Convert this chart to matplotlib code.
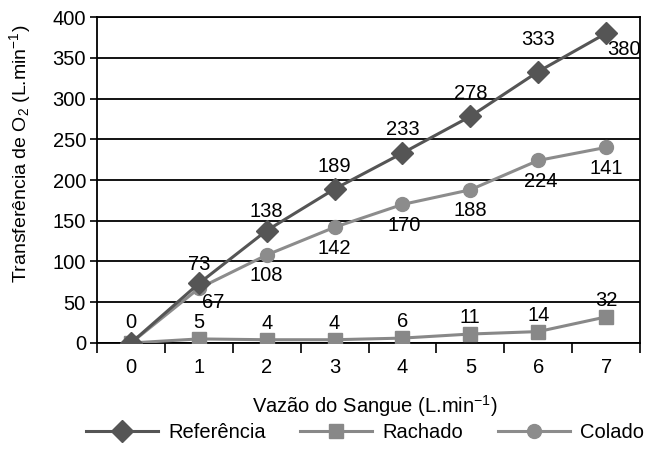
import matplotlib
matplotlib.use("Agg")
import matplotlib.pyplot as plt

plt.rcParams['font.family'] = ['Liberation Sans', 'DejaVu Sans']
plt.rcParams['mathtext.fontset'] = 'custom'
plt.rcParams['mathtext.rm'] = 'Liberation Sans'
plt.rcParams['mathtext.it'] = 'Liberation Sans:italic'
plt.rcParams['mathtext.default'] = 'regular'

# Blood flow categories and O2 transfer series
vazao = [0, 1, 2, 3, 4, 5, 6, 7]
referencia = [0, 73, 138, 189, 233, 278, 333, 380]
rachado = [0, 5, 4, 4, 6, 11, 14, 32]
colado = [0, 67, 108, 142, 170, 188, 224, 240]

# Printed data labels
ref_labels = ["0", "73", "138", "189", "233", "278", "333", "380"]
rach_labels = [None, "5", "4", "4", "6", "11", "14", "32"]
col_labels = [None, "67", "108", "142", "170", "188", "224", "141"]

fig = plt.figure(figsize=(6.48, 4.5), dpi=100)
ax = fig.add_axes([0.1497, 0.2378, 0.838, 0.7244])

c_ref = '#555555'
c_rach = '#888888'
c_col = '#8c8c8c'

x = list(range(len(vazao)))
ax.plot(x, colado, color=c_col, lw=2.2, marker='o', ms=10, label='Colado', zorder=3)
ax.plot(x, rachado, color=c_rach, lw=2.2, marker='s', ms=10, label='Rachado', zorder=4)
ax.plot(x, referencia, color=c_ref, lw=2.2, marker='D', ms=11, label='Referência', zorder=5)

fs = 14.5
# Referência labels (above, last one below-right)
ref_off = [(0, 8), (0, 7), (0, 7), (0, 9), (0, 10), (0, 10), (0, 16), (13, -12)]
for i, (t, off) in enumerate(zip(ref_labels, ref_off)):
    va = 'bottom' if off[1] > 0 else 'center'
    ax.annotate(t, (x[i], referencia[i]), xytext=off, textcoords='offset points',
                ha='center', va=va, fontsize=fs, zorder=6)
# Rachado labels (above)
for i, t in enumerate(rach_labels):
    if t is None:
        continue
    ax.annotate(t, (x[i], rachado[i]), xytext=(0, 5), textcoords='offset points',
                ha='center', va='bottom', fontsize=fs, zorder=6)
# Colado labels (below)
col_off = [None, (10, -10), (0, -15), (0, -15), (1, -15), (0, -15), (2, -15), (0, -15)]
for i, (t, off) in enumerate(zip(col_labels, col_off)):
    if t is None:
        continue
    ax.annotate(t, (x[i], colado[i]), xytext=off, textcoords='offset points',
                ha='center', va='center', fontsize=fs, zorder=6)

ax.set_xlim(-0.5, len(vazao) - 0.5)
ax.set_ylim(0, 400)
ax.set_yticks(range(0, 401, 50))
ax.set_xticks(x)
ax.set_xticklabels([str(v) for v in vazao])
ax.set_xticks([i - 0.5 for i in range(len(vazao) + 1)], minor=True)
ax.tick_params(axis='x', which='major', length=0, pad=11, labelsize=fs)
ax.tick_params(axis='x', which='minor', length=7, width=1.2, direction='out')
ax.tick_params(axis='y', length=5, width=1.2, labelsize=fs, pad=3)

ax.grid(axis='y', color='black', lw=1.3, zorder=0)
ax.set_axisbelow(True)
for s in ax.spines.values():
    s.set_linewidth(1.3)
    s.set_color('black')

ax.set_ylabel(r'Transferência de O$_2$ (L.min$^{\mathregular{-1}}$)', fontsize=14)
ax.yaxis.set_label_coords(-0.118, 0.58)
ax.set_xlabel(r'Vazão do Sangue (L.min$^{\mathregular{-1}}$)', fontsize=fs)
ax.xaxis.set_label_coords(0.512, -0.155)

handles, labels = ax.get_legend_handles_labels()
order = [2, 1, 0]
fig.legend([handles[i] for i in order], [labels[i] for i in order],
           loc='center', bbox_to_anchor=(0.563, 0.038), ncol=3, frameon=False,
           fontsize=fs, handlelength=3.6, handletextpad=0.5, columnspacing=1.7)

fig.savefig('out.png', dpi=100)
